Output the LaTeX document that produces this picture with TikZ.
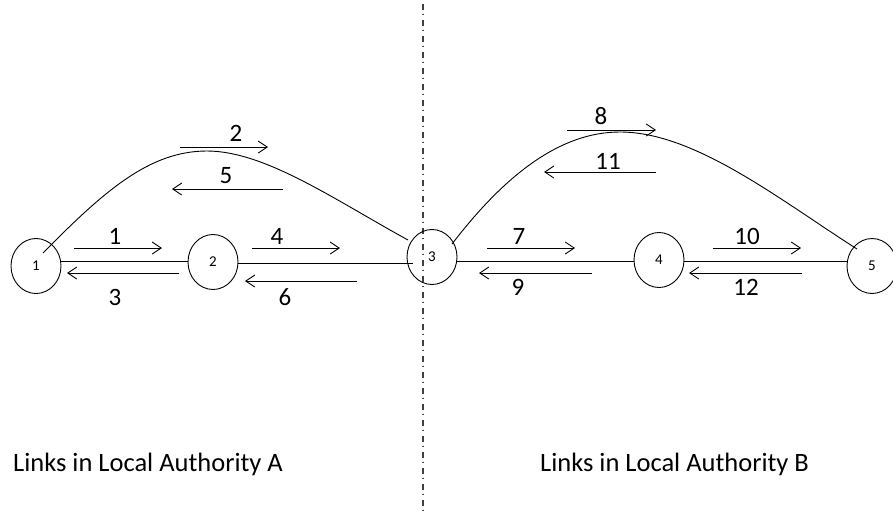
\documentclass[tikz,border=0pt]{standalone}
\usepackage{fontspec}
\setmainfont{Carlito}
\usetikzlibrary{arrows.meta,shapes.geometric}
\begin{document}
\begin{tikzpicture}[x=1pt,y=-1pt,
  junction/.style={draw,line width=0.9pt,ellipse,minimum width=50pt,minimum height=55pt,inner sep=0pt,font=\fontsize{15}{15}\selectfont},
  link/.style={line width=0.9pt},
  flow/.style={line width=0.9pt,-{Straight Barb[length=9pt,width=12pt,line width=0.9pt]}},
  num/.style={font=\fontsize{25}{25}\selectfont,inner sep=0pt},
  caption/.style={font=\fontsize{26.5}{26.5}\selectfont,anchor=base west,inner sep=0pt}]
\useasboundingbox (0,0) rectangle (893,512);

% boundary between the two authorities
\draw[line width=1.3pt,black!75,dash pattern=on 6pt off 3.5pt on 1.5pt off 5pt] (423,4) -- (423,512);

% junctions
\node[junction] (n1) at (36,266) {1};
\node[junction] (n2) at (213,262) {2};
\node[junction] (n3) at (432,257) {3};
\node[junction] (n4) at (659,260) {4};
\node[junction] (n5) at (872,266) {5};

% straight links
\draw[link] (n1.east |- 0,261) -- (n2.west |- 0,261);
\draw[link] (n2.east |- 0,263) -- (413,263);
\draw[link] (n3.east |- 0,261) -- (n4.west |- 0,261);
\draw[link] (n4.east |- 0,261) -- (n5.west |- 0,261);

% curved links
\coordinate (c1a) at (43,253);
\coordinate (c1b) at (408,240);
\draw[link] (c1a) .. controls (105,190) and (150,151) .. (207,151)
                   .. controls (265,151) and (335,200) .. (c1b);
\coordinate (c2a) at (452,244);
\coordinate (c2b) at (857,249);
\draw[link] (c2a) .. controls (505,175) and (560,132) .. (620,132)
                   .. controls (695,132) and (780,200) .. (c2b);

% flow directions, authority A
\draw[flow] (74,248) -- (162,248);  \node[num] at (115,236) {1};
\draw[flow] (179,273) -- (67,273);  \node[num] at (115,297) {3};
\draw[flow] (252,248) -- (340,248); \node[num] at (277,236) {4};
\draw[flow] (357,281) -- (245,281); \node[num] at (285,297) {6};
\draw[flow] (180,147) -- (268,147); \node[num] at (236,133) {2};
\draw[flow] (283,189) -- (172,189); \node[num] at (226,176) {5};

% flow directions, authority B
\draw[flow] (487,248) -- (575,248); \node[num] at (519,236) {7};
\draw[flow] (592,273) -- (479,273); \node[num] at (518,287) {9};
\draw[flow] (713,248) -- (801,248); \node[num] at (747,236) {10};
\draw[flow] (802,273) -- (689,273); \node[num] at (746,287) {12};
\draw[flow] (567,130) -- (656,130); \node[num] at (601,116) {8};
\draw[flow] (656,172) -- (544,172); \node[num] at (608,161) {11};

% captions
\node[caption] (capA) at (13,471) {Links in Local Authority A};
\node[caption] (capB) at (540,471) {Links in Local Authority B};
\end{tikzpicture}
\end{document}
